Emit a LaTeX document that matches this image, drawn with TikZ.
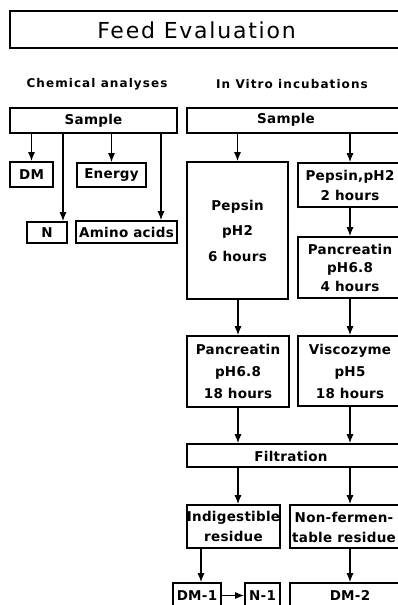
\documentclass[tikz,border=0pt]{standalone}
\usepackage{fontspec}
\setmainfont{DejaVu Sans}
\newfontfamily\titlefont[LetterSpace=8]{DejaVu Sans}
\newfontfamily\headfont[LetterSpace=9]{DejaVu Sans}
\newfontfamily\boxfont[LetterSpace=2]{DejaVu Sans}
\usetikzlibrary{arrows.meta}
\newcommand{\bxf}[1]{\boxfont\bfseries\fontsize{13.5}{#1}\selectfont}
\tikzset{
  box/.style={draw, line width=1.6pt, inner sep=0pt, align=center, font=\bxf{20}},
  arr/.style={line width=1.2pt, -{Latex[length=9pt,width=7pt]}},
  head/.style={font=\headfont\bfseries\fontsize{12}{14}\selectfont, inner sep=0pt},
  ttl/.style={font=\titlefont\fontsize{22}{26}\selectfont, inner sep=0pt},
}
\begin{document}
\begin{tikzpicture}[x=1pt,y=-1pt]
\useasboundingbox[fill=white] (0,0) rectangle (398,605);
\clip (0,0) rectangle (398,605);
% title
\node[box, minimum width=396, minimum height=37] (title) at (208,29.5) {};
\node[ttl] (titletext) at (196.5,30) {Feed Evaluation};
% headings
\node[head] (chem) at (97,84) {Chemical analyses};
\node[head] (vitro) at (292,84) {In Vitro incubations};
% chemical analyses column
\node[box, minimum width=167, minimum height=25] (sampleL) at (93.5,120.5) {Sample};
\node[box, minimum width=43, minimum height=25] (dm) at (31.5,174.5) {DM};
\node[box, minimum width=69, minimum height=24] (energy) at (111.5,175) {Energy};
\node[box, minimum width=40, minimum height=21] (n) at (47,232.5) {N};
\node[box, minimum width=101, minimum height=22] (amino) at (126.5,232) {Amino acids};
% in vitro column
\node[box, minimum width=219, minimum height=25] (sampleR) at (296.5,120.5) {};
\node[font=\bxf{20}, inner sep=0pt] (sampleRtext) at (286,120) {Sample};
\node[box, minimum width=101, minimum height=137, font=\bxf{25.5}] (pep6) at (237.5,230.5) {Pepsin\\pH2\\6 hours};
\node[box, minimum width=104, minimum height=44] (pep2) at (350,185) {Pepsin,pH2\\2 hours};
\node[box, minimum width=104, minimum height=61, font=\bxf{18.5}] (pan4) at (350,267.5) {Pancreatin\\pH6.8\\4 hours};
\node[box, minimum width=102, minimum height=71, font=\bxf{22}] (pan18) at (238,371.5) {Pancreatin\\pH6.8\\18 hours};
\node[box, minimum width=104, minimum height=70, font=\bxf{22}] (visc) at (350,371) {Viscozyme\\pH5\\18 hours};
\node[box, minimum width=219, minimum height=23] (filt) at (296.5,455.5) {};
\node[font=\bxf{20}, inner sep=0pt] (filttext) at (291,456) {Filtration};
\node[box, minimum width=93, minimum height=43] (indig) at (233.5,526.5) {Indigestible\\residue};
\node[box, minimum width=120, minimum height=43] (nonf) at (350,526.5) {};
\node[font=\bxf{20}, inner sep=0pt, align=center] (nonftext) at (344,527) {Non-fermen-\\table residue};
\node[box, minimum width=48, minimum height=25] (dm1) at (197,595.5) {DM-1};
\node[box, minimum width=35, minimum height=25] (n1) at (262.5,595.5) {N-1};
\node[box, minimum width=120, minimum height=25] (dm2) at (350,595.5) {DM-2};
% connectors, chemical analyses
\draw[arr] (dm.north |- sampleL.south) -- (dm.north);
\draw[arr] ([xshift=16pt]n.north |- sampleL.south) -- ([xshift=16pt]n.north);
\draw[arr] (energy.north |- sampleL.south) -- (energy.north);
\draw[arr] ([xshift=34.5pt]amino.north |- sampleL.south) -- ([xshift=34.5pt]amino.north);
% connectors, in vitro
\draw[arr] (pep6.north |- sampleR.south) -- (pep6.north);
\draw[arr] (pep2.north |- sampleR.south) -- (pep2.north);
\draw[arr] (pep2.south) -- (pan4.north);
\draw[arr] (pan18.north |- pep6.south) -- (pan18.north);
\draw[arr] (pan4.south) -- (visc.north);
\draw[arr] (pan18.south) -- (pan18.south |- filt.north);
\draw[arr] (visc.south) -- (visc.south |- filt.north);
\draw[arr] (pan18.south |- filt.south) -- (pan18.south |- indig.north);
\draw[arr] (nonf.north |- filt.south) -- (nonf.north);
\draw[arr] ([xshift=4pt]dm1.north |- indig.south) -- ([xshift=4pt]dm1.north);
\draw[arr] (nonf.south) -- (dm2.north);
\draw[arr] (dm1.east) -- (n1.west);
\end{tikzpicture}
\end{document}
